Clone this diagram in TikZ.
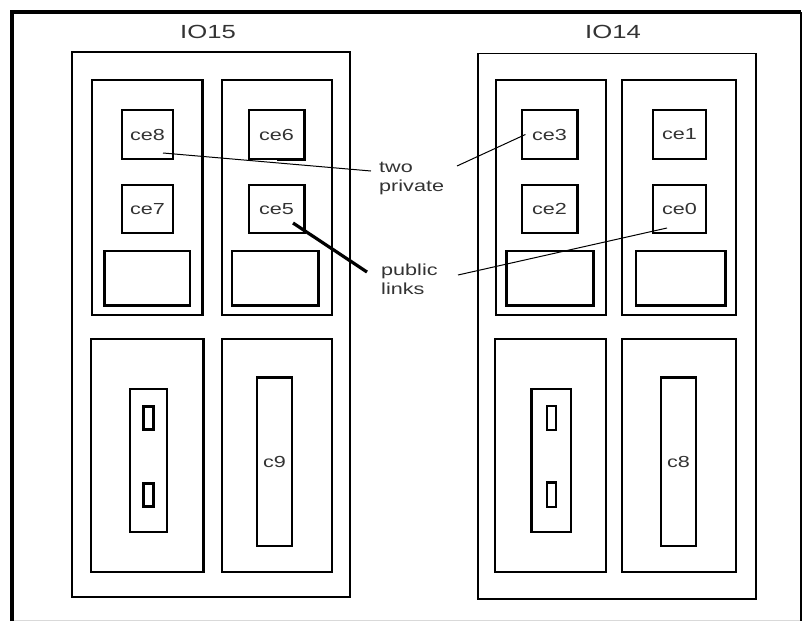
\documentclass[tikz,border=0pt]{standalone}
\usepackage{fontspec}
\usepackage{tikz}
\usetikzlibrary{positioning,calc}
\newfontfamily\lblfont[FakeStretch=1.35]{Liberation Sans}
\tikzset{box/.style = {draw,rectangle,line width=1.2pt,inner sep=0pt},
         lbl/.style = {text=black!80,font=\lblfont\fontsize{16}{19}\selectfont},
         heavyline/.style = {line width=2.6pt},
         link/.style = {line width=1pt}}

\begin{document}
\begin{tikzpicture}[x=1pt,y=-1pt]
    \useasboundingbox (0,0) rectangle (808,621);
    % frame
    \draw[black!15,line width=1pt] (12,620) -- (801,620);
    \draw[line width=3.5pt] (12,621) -- (12,12) -- (801,12);
    \draw[line width=2pt] (801,12) -- (801,621);

    % IO15
    \begin{scope}
        \node [lbl,font=\lblfont\fontsize{19}{21}\selectfont] (io15) at (208,32) {IO15};
        \node [box,minimum width=278,minimum height=545] (b15) at (211,324.5) {};
        \node [box,minimum width=110,minimum height=235] (p15a) at (147,197.5) {};
        \node [box,minimum width=110,minimum height=235] (p15b) at (277,197.5) {};
        \node [box,minimum width=112,minimum height=233] (p15c) at (147,455.5) {};
        \node [box,minimum width=110,minimum height=233] (p15d) at (277,455.5) {};

        \node [box,lbl,minimum width=51,minimum height=49] (ce8) at (147.5,134.5) {ce8};
        \node [box,lbl,minimum width=51,minimum height=48] (ce7) at (147.5,209) {ce7};
        \node [box,minimum width=85,minimum height=54] (r15a) at (147.5,278) {};
        \node [box,lbl,minimum width=55,minimum height=49] (ce6) at (276.5,134.5) {ce6};
        \node [box,lbl,minimum width=55,minimum height=48] (ce5) at (276.5,209) {ce5};
        \node [box,minimum width=86,minimum height=54] (r15b) at (275,278) {};

        \node [box,minimum width=37,minimum height=143] (s15) at (148.5,460.5) {};
        \node [box,line width=2.4pt,minimum width=10,minimum height=23] (s15a) at (148.5,418) {};
        \node [box,line width=2.4pt,minimum width=10,minimum height=23] (s15b) at (148.5,495) {};
        \node [box,lbl,minimum width=35,minimum height=168] (c9) at (274.5,462) {c9};

        \draw [heavyline] (p15a.north east) -- (p15a.south east);
        \draw [heavyline] (p15c.north east) -- (p15c.south east);
        \draw [heavyline] (ce6.north east) -- (ce6.south east) -- (ce6.south);
        \draw [heavyline] (ce5.north east) -- (ce5.south east);
        \draw [heavyline] (r15a.north west) -- (r15a.south west) -- (r15a.south east);
        \draw [heavyline] (r15b.south west) -- (r15b.south east) -- (r15b.north east);
        \draw [heavyline] (c9.north west) -- (c9.north east);
    \end{scope}

    % IO14
    \begin{scope}
        \node [lbl,font=\lblfont\fontsize{19}{21}\selectfont] (io14) at (613,32) {IO14};
        \node [box,minimum width=278,minimum height=545] (b14) at (617,326) {};
        \node [box,minimum width=110,minimum height=235] (p14a) at (551,197.5) {};
        \node [box,minimum width=114,minimum height=235] (p14b) at (679,197.5) {};
        \node [box,minimum width=111,minimum height=233] (p14c) at (550.5,455.5) {};
        \node [box,minimum width=114,minimum height=233] (p14d) at (679,455.5) {};

        \node [box,lbl,minimum width=55,minimum height=49] (ce3) at (549.5,134.5) {ce3};
        \node [box,lbl,minimum width=55,minimum height=48] (ce2) at (549.5,209) {ce2};
        \node [box,minimum width=86,minimum height=54] (r14a) at (550,278) {};
        \node [box,lbl,minimum width=53,minimum height=49] (ce1) at (679.5,134.5) {ce1};
        \node [box,lbl,minimum width=53,minimum height=48] (ce0) at (679.5,209) {ce0};
        \node [box,minimum width=89,minimum height=54] (r14b) at (680.5,278) {};

        \node [box,minimum width=39,minimum height=143] (s14) at (551.5,460.5) {};
        \node [box,minimum width=9,minimum height=24] (s14a) at (551.5,418) {};
        \node [box,minimum width=9,minimum height=24] (s14b) at (551.5,495) {};
        \node [box,lbl,minimum width=35,minimum height=168] (c8) at (678.5,462) {c8};

        \draw [heavyline] (b14.south west) -- (b14.south east);
        \draw [heavyline] (ce3.north east) -- (ce3.south east);
        \draw [heavyline] (ce2.north east) -- (ce2.south east);
        \draw [heavyline] (r14a.north west) -- (r14a.south west) -- (r14a.south east) -- (r14a.north east);
        \draw [heavyline] (r14b.south west) -- (r14b.south east) -- (r14b.north east);
        \draw [heavyline] (s14.north west) -- (s14.south west);
        \draw [line width=2pt] (s14b.north west) -- (s14b.north east);
        \draw [heavyline] (c8.north west) -- (c8.north east);
    \end{scope}

    % link labels
    \node [lbl,align=left,anchor=north west,inner sep=0pt] (twopriv) at (379,162) {two\\private};
    \node [lbl,align=left,anchor=north west,inner sep=0pt] (publinks) at (381,264) {public\\links};

    \coordinate (a8) at (163,153);
    \coordinate (twoL) at (371,171);
    \coordinate (twoR) at (457,166);
    \coordinate (a5) at (293,223);
    \coordinate (pubL) at (367,272);
    \coordinate (pubR) at (458,275);
    \coordinate (a0) at (667,228);

    \draw [link] (a8) -- (twoL);
    \draw [link] (twoR) -- ([xshift=4pt]ce3.west);
    \draw [line width=3.2pt] (a5) -- (pubL);
    \draw [link] (pubR) -- (a0);
\end{tikzpicture}
\end{document}
